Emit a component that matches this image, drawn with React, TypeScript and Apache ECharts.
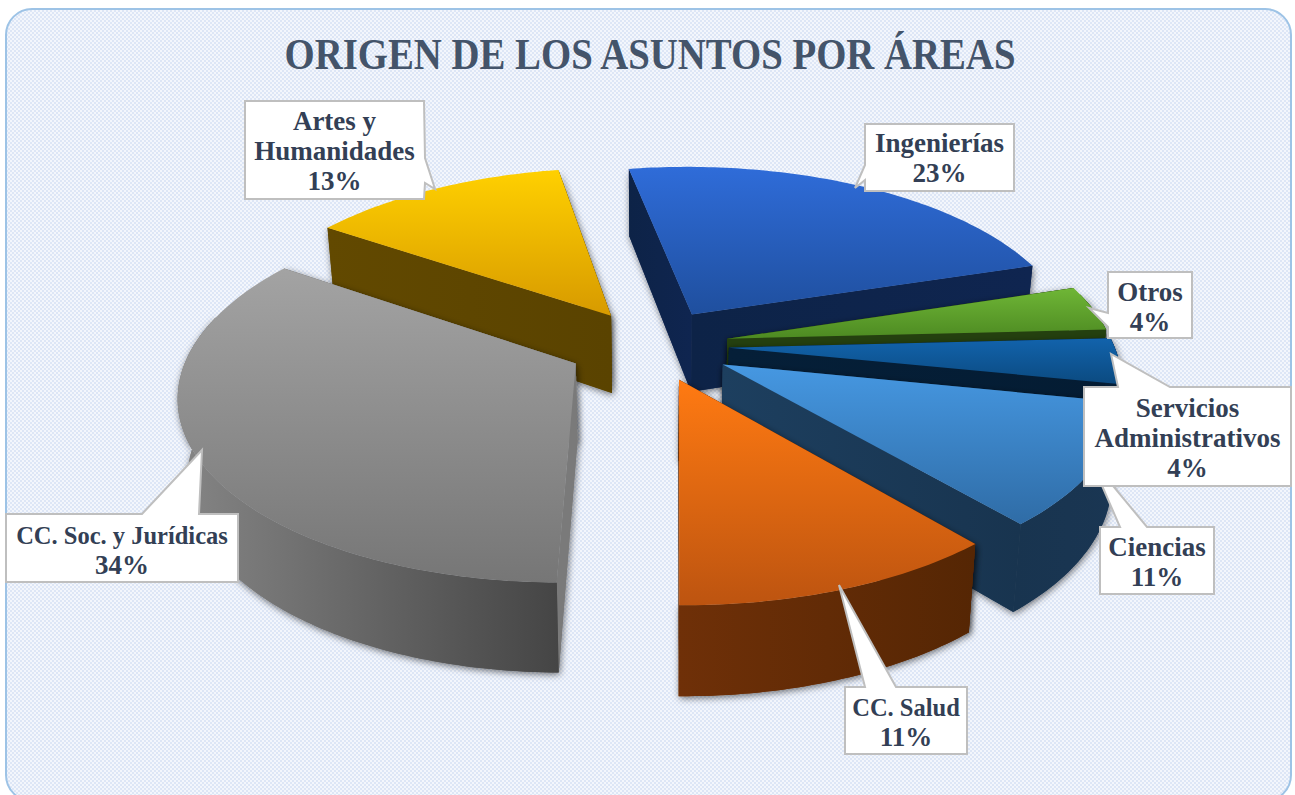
import React, { useEffect, useRef } from "react";
import * as echarts from "echarts";

const titleText = "ORIGEN DE LOS ASUNTOS POR ÁREAS";
const categories = ["Ingenierías", "Otros", "Servicios Administrativos", "Ciencias", "CC. Salud", "CC. Soc. y Jurídicas", "Artes y Humanidades"];
const values = [23, 4, 4, 10.6, 11.4, 34.3, 12.7];
const labelLines = [["Ingenierías"], ["Otros"], ["Servicios", "Administrativos"], ["Ciencias"], ["CC. Salud"], ["CC. Soc. y Jurídicas"], ["Artes y", "Humanidades"]];

const sliceStyles = [
  { explode: 0.205, top: ["#2f6cd9", "#1f4f9e"], wall: ["#0e2550", "#0e2550"], cut: ["#0d2347", "#0f2550"] },
  { explode: 0.2, top: ["#6fb636", "#4d8a22"], wall: ["#24400f", "#24400f"], cut: ["#24400f", "#24400f"] },
  { explode: 0.2, top: ["#1263ac", "#0b4a80"], wall: ["#051f38", "#051f38"], cut: ["#051f38", "#041c33"] },
  { explode: 0.21, top: ["#4698e2", "#2f6ca6"], wall: ["#18344f", "#1a3653"], cut: ["#1d3f5f", "#18344f"] },
  { explode: 0.2, top: ["#ff7a12", "#bd5410"], wall: ["#6f3008", "#552604"], cut: ["#6b2e07", "#552604"] },
  { explode: 0.22, top: ["#a3a3a3", "#767676"], wall: ["#858585", "#454545"], cut: ["#7a7a7a", "#7a7a7a"] },
  { explode: 0.2, top: ["#ffd000", "#d79a00"], wall: ["#624900", "#5a4300"], cut: ["#624900", "#5a4300"] },
];

// callout boxes: [left, top, right, bottom], and pointer as [tip, base A, base B]
const callouts = [
  { box: [865, 124, 1014, 191], tip: [855, 188], a: [865, 165], b: [865, 180], side: "left", lineY: 143 },
  { box: [1108, 272, 1192, 338], tip: [1089, 308], a: [1108, 313], b: [1108, 327], side: "left", lineY: 292 },
  { box: [1084, 387, 1291, 486], tip: [1111, 354], a: [1118, 387], b: [1170, 387], side: "top", lineY: 408 },
  { box: [1100, 527, 1214, 594], tip: [1090, 458], a: [1120, 527], b: [1147, 527], side: "top", lineY: 547 },
  { box: [845, 687, 967, 754], tip: [839, 585], a: [865, 687], b: [896, 687], side: "top", lineY: 707 },
  { box: [6, 514, 238, 582], tip: [202, 450], a: [142, 514], b: [199, 514], side: "top", lineY: 535 },
  { box: [245, 101, 424, 199], tip: [435, 189], a: [425, 158], b: [425, 183], side: "right", lineY: 121 },
];
const calloutOrder = [0, 1, 3, 2, 4, 5, 6];

const SERIF = "'Liberation Serif', 'DejaVu Serif', serif";
const view = { cx: 652, cy: 345, a: 385, b: 179, k: 0.154, startDeg: -10.2 };

function project(X: number, Y: number) {
  const s = 1 / (1 - view.k * Y);
  return [view.cx + view.a * X * s, view.cy + view.b * Y * s];
}
function projectBottom(X: number, Y: number) {
  const p = project(X, Y);
  return [view.cx + (p[0] - view.cx) * 0.98, p[1] + 79 + 10 * Y];
}
const rad = (d: number) => (d * Math.PI) / 180;

function sliceGeometry(i: number) {
  const total = values.reduce((s, v) => s + v, 0);
  const before = values.slice(0, i).reduce((s, v) => s + v, 0);
  const start = view.startDeg + (before / total) * 360;
  const end = start + (values[i] / total) * 360;
  const mid = (start + end) / 2;
  const e = sliceStyles[i].explode;
  const ox = e * Math.sin(rad(mid));
  const oy = -e * Math.cos(rad(mid));
  const at = (deg: number) => [ox + Math.sin(rad(deg)), oy - Math.cos(rad(deg))];
  return { start, end, mid, ox, oy, at };
}

const hGrad = (c: string[]) =>
  new echarts.graphic.LinearGradient(0, 0, 1, 0, [
    { offset: 0, color: c[0] },
    { offset: 1, color: c[1] },
  ]);

function renderSlice(params: any) {
  const i = params.dataIndex;
  const g = sliceGeometry(i);
  const st = sliceStyles[i];
  const order = categories.map((_, n) => n).sort((p, q) => -Math.cos(rad(sliceGeometry(p).mid)) + Math.cos(rad(sliceGeometry(q).mid)));
  const base = order.indexOf(i) * 20;
  const shadow = { shadowBlur: 7, shadowColor: "rgba(0,0,0,0.55)", shadowOffsetX: 1, shadowOffsetY: 2 };

  const rimPts: number[][] = [];
  for (let d = g.start; d < g.end; d += 1) rimPts.push(project(g.at(d)[0], g.at(d)[1]));
  rimPts.push(project(g.at(g.end)[0], g.at(g.end)[1]));
  const apex = project(g.ox, g.oy);
  const topPoly = [apex, ...rimPts];

  const cut = (deg: number) => {
    const e = g.at(deg);
    return {
      y: (g.oy + e[1]) / 2,
      pts: [apex, project(e[0], e[1]), projectBottom(e[0], e[1]), projectBottom(g.ox, g.oy)],
    };
  };
  const faces = [cut(g.start), cut(g.end)].sort((p, q) => p.y - q.y);
  const children: any[] = [];
  faces.forEach((f, n) => {
    children.push({ type: "polygon", z2: base, shape: { points: f.pts }, style: { fill: st.cut[1], ...shadow } });
    children.push({ type: "polygon", z2: base + 3 + n, shape: { points: f.pts }, style: { fill: hGrad(st.cut) } });
  });

  const from = Math.max(g.start, 75);
  const to = Math.min(g.end, 285);
  if (to > from) {
    const upper: number[][] = [];
    const lower: number[][] = [];
    for (let d = from; ; d = Math.min(d + 1, to)) {
      const e = g.at(d);
      upper.push(project(e[0], e[1]));
      lower.unshift(projectBottom(e[0], e[1]));
      if (d >= to) break;
    }
    const fill = hGrad(st.wall);
    children.push({ type: "polygon", z2: base, shape: { points: [...upper, ...lower] }, style: { fill, ...shadow } });
    children.push({ type: "polygon", z2: base + 6, shape: { points: [...upper, ...lower] }, style: { fill } });
  }
  children.push({
    type: "polygon",
    z2: base + 8,
    shape: { points: topPoly },
    style: {
      fill: new echarts.graphic.LinearGradient(0, 0, 0, 1, [
        { offset: 0, color: st.top[0] },
        { offset: 1, color: st.top[1] },
      ]),
    },
  });
  return { type: "group", children };
}

function renderCallout(params: any) {
  const i = params.dataIndex;
  const c = callouts[i];
  const [l, t, r, b] = c.box;
  let pts: number[][];
  if (c.side === "left") pts = [[l, t], [r, t], [r, b], [l, b], c.b, c.tip, c.a];
  else if (c.side === "right") pts = [[l, t], [r, t], c.a, c.tip, c.b, [r, b], [l, b]];
  else pts = [[l, t], c.a, c.tip, c.b, [r, t], [r, b], [l, b]];
  const z = calloutOrder.indexOf(i) * 10;
  const lines = [...labelLines[i], `${Math.round(values[i])}%`];
  const cx = (l + r) / 2;
  return {
    type: "group",
    children: [
      { type: "polygon", z2: 1000 + z, shape: { points: pts }, style: { fill: "#ffffff", stroke: "#bfbfbf", lineWidth: 2 } },
      ...lines.map((s, n) => ({
        type: "text",
        z2: 1001 + z,
        x: cx,
        y: c.lineY + n * 30,
        style: {
          text: s,
          fill: "#333f55",
          font: `bold ${s.startsWith("CC.") ? 24.5 : 27}px ${SERIF}`,
          align: "center",
          verticalAlign: "middle",
        },
      })),
    ],
  };
}

function makeCheck() {
  const c = document.createElement("canvas");
  c.width = 4;
  c.height = 4;
  const ctx = c.getContext("2d")!;
  ctx.fillStyle = "#f3f6fc";
  ctx.fillRect(0, 0, 4, 4);
  ctx.fillStyle = "#dde6f6";
  ctx.fillRect(0, 0, 2, 2);
  ctx.fillRect(2, 2, 2, 2);
  return c;
}

export default function App() {
  const ref = useRef<HTMLDivElement>(null);
  useEffect(() => {
    const chart = echarts.init(ref.current!, undefined, { renderer: "svg" });
    chart.setOption({
      animation: false,
      backgroundColor: "#ffffff",
      graphic: [
        {
          type: "rect",
          z: -10,
          shape: { x: 6, y: 9, width: 1285, height: 792, r: 26 },
          style: { fill: { image: makeCheck(), repeat: "repeat" }, stroke: "#9dc3e6", lineWidth: 2 },
          silent: true,
        },
        {
          type: "text",
          z: 1,
          x: 650,
          y: 54,
          scaleX: 0.862,
          silent: true,
          style: {
            text: titleText,
            fill: "#44546a",
            font: `bold 45px ${SERIF}`,
            align: "center",
            verticalAlign: "middle",
          },
        },
      ],
      series: [
        { type: "custom", coordinateSystem: "none", name: "Origen", z: 2, renderItem: renderSlice, data: values, silent: true },
        { type: "custom", coordinateSystem: "none", name: "Etiquetas", z: 3, renderItem: renderCallout, data: values, silent: true },
      ],
    });
    return () => chart.dispose();
  }, []);
  return <div ref={ref} style={{ position: "fixed", left: 0, top: 0, width: 1295, height: 795 }} />;
}
